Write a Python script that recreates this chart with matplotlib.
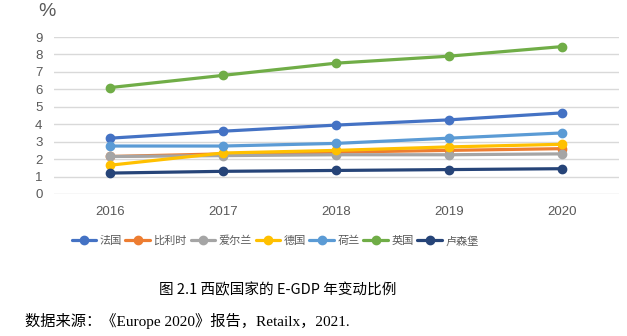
import matplotlib
matplotlib.use("Agg")
import matplotlib.pyplot as plt

plt.rcParams['font.family'] = ['Liberation Sans', 'Noto Sans CJK SC', 'DejaVu Sans']

years = ["2016", "2017", "2018", "2019", "2020"]
series_names = ["法国", "比利时", "爱尔兰", "德国", "荷兰", "英国", "卢森堡"]
france = [3.2, 3.6, 3.95, 4.25, 4.65]
belgium = [2.15, 2.3, 2.4, 2.5, 2.6]
ireland = [2.15, 2.2, 2.25, 2.25, 2.3]
germany = [1.65, 2.35, 2.5, 2.7, 2.85]
netherlands = [2.75, 2.75, 2.9, 3.2, 3.5]
uk = [6.1, 6.8, 7.5, 7.9, 8.45]
luxembourg = [1.2, 1.3, 1.35, 1.4, 1.45]
yticks = [0, 1, 2, 3, 4, 5, 6, 7, 8, 9]

colors = ["#4472C4", "#ED7D31", "#A5A5A5", "#FFC000", "#5B9BD5", "#70AD47", "#264478"]
data = [france, belgium, ireland, germany, netherlands, uk, luxembourg]

fig = plt.figure(figsize=(6.27, 3.36), dpi=100)
ax = fig.add_axes([53.5/627, 1-194/336, 565/627, 157/336])
x = list(range(len(years)))
for name, vals, c in zip(series_names, data, colors):
    ax.plot(x, vals, color=c, lw=2.3, marker='o', markersize=6, label=name, clip_on=False, solid_capstyle='round')

ax.set_xlim(-0.5, len(years) - 0.5)
ax.set_ylim(0, 9)
ax.set_yticks(yticks)
ax.set_xticks(x)
ax.set_xticklabels(years)
ax.grid(axis='y', color='#D9D9D9', lw=1)
ax.set_axisbelow(True)
for s in ax.spines.values():
    s.set_visible(False)
ax.tick_params(axis='both', length=0, labelsize=9.5, colors='#595959')
ax.tick_params(axis='x', pad=9)
ax.tick_params(axis='y', pad=8)

fig.text(38/627, 1-11/336, "%", fontsize=14, color='#595959', va='center', ha='left')

leg = fig.legend(loc='center', bbox_to_anchor=(275/627, 1-241/336), ncol=7, frameon=False,
                 handlelength=2.2, columnspacing=0.35, handletextpad=0.3,
                 prop={'family': ['Noto Sans CJK SC'], 'size': 8})
for t in leg.get_texts():
    t.set_color('#595959')

fig.text(278/627, 1-290/336, "图 2.1 西欧国家的 E-GDP 年变动比例", fontsize=10.5, color='black',
         ha='center', va='center', family=['Noto Sans CJK SC'])
fig.text(25/627, 1-321/336, "数据来源：《Europe 2020》报告，Retailx，2021.", fontsize=11, color='black',
         ha='left', va='center', family=['Liberation Serif', 'Noto Sans CJK SC'])

fig.savefig("out.png", dpi=100, facecolor='white')
